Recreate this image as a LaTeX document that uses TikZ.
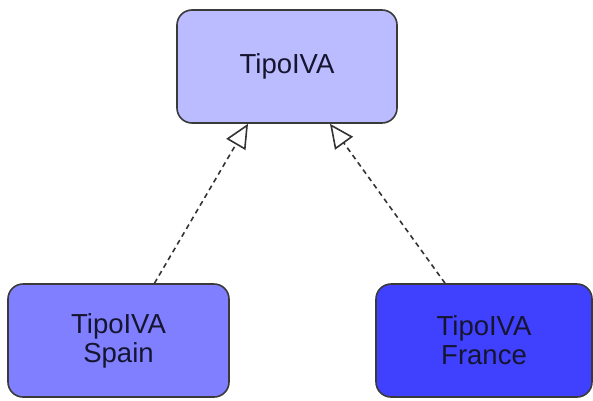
\documentclass[tikz,border=0pt]{standalone}
\usepackage{fontspec}
\setmainfont{Liberation Sans}
\usetikzlibrary{arrows.meta}
\definecolor{topfill}{HTML}{BBBBFF}
\definecolor{spainfill}{HTML}{7F7FFF}
\definecolor{francefill}{HTML}{4040FF}
\definecolor{edgecol}{HTML}{3A3A3A}
\definecolor{txtcol}{HTML}{151530}
\tikzset{
  classbox/.style={draw=edgecol, line width=1.6pt, rounded corners=15pt,
    minimum width=#1, inner sep=0pt, align=center, text=txtcol,
    font=\fontsize{27.5}{29}\selectfont},
  realize/.style={draw=black!80, line width=1.6pt, dash pattern=on 5pt off 4pt,
    -{Triangle[open, length=24pt, width=22pt, line width=1.6pt]}}
}
\begin{document}
\begin{tikzpicture}[x=1pt,y=1pt]
\useasboundingbox (0,0) rectangle (593,400);
\node[classbox=220pt, minimum height=113pt, fill=topfill] (tipo) at (287,333.5) {TipoIVA};
\node[classbox=221pt, minimum height=113pt, fill=spainfill] (spain) at (118.5,59.5) {TipoIVA\\Spain};
\node[classbox=216pt, minimum height=113pt, fill=francefill] (france) at (484,59.5) {TipoIVA\\France};
\draw[realize] ([xshift=36pt]spain.north) -- ([xshift=-39pt]tipo.south);
\draw[realize] ([xshift=-39pt]france.north) -- ([xshift=43pt]tipo.south);
\end{tikzpicture}
\end{document}
